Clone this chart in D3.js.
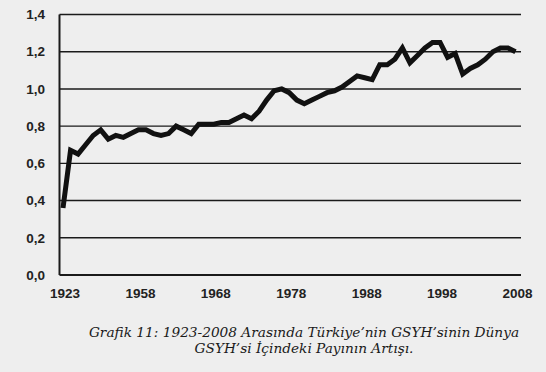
<!DOCTYPE html>
<html>
<head>
<meta charset="utf-8">
<script src="https://cdn.jsdelivr.net/npm/d3@7"></script>
<style>
  body { margin: 0; background: #eeeeee; }
  svg { display: block; }
</style>
</head>
<body>
<svg id="chart"></svg>
<script>
// Years on the category axis (1923, then every year 1949-2008)
const years = [1923,
  1949, 1950, 1951, 1952, 1953, 1954, 1955, 1956, 1957, 1958,
  1959, 1960, 1961, 1962, 1963, 1964, 1965, 1966, 1967, 1968,
  1969, 1970, 1971, 1972, 1973, 1974, 1975, 1976, 1977, 1978,
  1979, 1980, 1981, 1982, 1983, 1984, 1985, 1986, 1987, 1988,
  1989, 1990, 1991, 1992, 1993, 1994, 1995, 1996, 1997, 1998,
  1999, 2000, 2001, 2002, 2003, 2004, 2005, 2006, 2007, 2008];

// Share of world GDP (%)
const shares = [0.36,
  0.67, 0.65, 0.70, 0.75, 0.78, 0.73, 0.75, 0.74, 0.76, 0.78,
  0.78, 0.76, 0.75, 0.76, 0.80, 0.78, 0.76, 0.81, 0.81, 0.81,
  0.82, 0.82, 0.84, 0.86, 0.84, 0.88, 0.94, 0.99, 1.00, 0.98,
  0.94, 0.92, 0.94, 0.96, 0.98, 0.99, 1.01, 1.04, 1.07, 1.06,
  1.05, 1.13, 1.13, 1.16, 1.22, 1.14, 1.18, 1.22, 1.25, 1.25,
  1.17, 1.19, 1.08, 1.11, 1.13, 1.16, 1.20, 1.22, 1.22, 1.20];

// Tick labels
const xTickYears = [1923, 1958, 1968, 1978, 1988, 1998, 2008];
const yTicks = [0, 0.2, 0.4, 0.6, 0.8, 1.0, 1.2, 1.4];

const caption = [
  "Grafik 11: 1923-2008 Arasında Türkiye’nin GSYH’sinin Dünya",
  "GSYH’si İçindeki Payının Artışı."
];

const width = 546;
const height = 372;

const svg = d3.select("#chart").attr("width", width).attr("height", height);

// Plot box
const plotLeft = 59.5;
const plotRight = 521;
const plotTop = 14.5;
const plotBottom = 275;

const x = d3.scalePoint().domain(years).range([63, 515.5]);
const y = d3.scaleLinear().domain([0, 1.4]).range([plotBottom, plotTop]);

// Horizontal gridlines
svg.selectAll(".grid")
  .data(yTicks)
  .enter()
  .append("line")
  .attr("class", "grid")
  .attr("x1", plotLeft)
  .attr("x2", plotRight)
  .attr("y1", (d) => y(d))
  .attr("y2", (d) => y(d))
  .attr("stroke", "#1a1a1a")
  .attr("stroke-width", (d) => (d === 0 ? 2 : 1.4));

// Left axis line
svg.append("line")
  .attr("x1", plotLeft).attr("x2", plotLeft)
  .attr("y1", y(1.4)).attr("y2", y(0))
  .attr("stroke", "#1a1a1a")
  .attr("stroke-width", 2);

// Y labels with comma decimals
svg.selectAll(".ylab")
  .data(yTicks)
  .enter()
  .append("text")
  .attr("class", "ylab")
  .attr("x", 45)
  .attr("y", (d) => y(d))
  .attr("dy", "0.35em")
  .attr("text-anchor", "end")
  .attr("font-family", "Liberation Sans, Arial, sans-serif")
  .attr("font-weight", "bold")
  .attr("font-size", 13.5)
  .attr("fill", "#222")
  .text((d) => d.toFixed(1).replace(".", ","));

// X labels
svg.selectAll(".xlab")
  .data(xTickYears)
  .enter()
  .append("text")
  .attr("class", "xlab")
  .attr("x", (d) => x(d) + 2)
  .attr("y", plotBottom + 18)
  .attr("dy", "0.35em")
  .attr("text-anchor", "middle")
  .attr("font-family", "Liberation Sans, Arial, sans-serif")
  .attr("font-weight", "bold")
  .attr("font-size", 13.5)
  .attr("fill", "#222")
  .text((d) => d);

// The data line
const line = d3.line()
  .x((d, i) => x(years[i]))
  .y((d) => y(d));

svg.append("path")
  .datum(shares)
  .attr("d", line)
  .attr("fill", "none")
  .attr("stroke", "#111")
  .attr("stroke-width", 5)
  .attr("stroke-linejoin", "miter")
  .attr("stroke-miterlimit", 3);

// Caption below the chart
svg.selectAll(".caption")
  .data(caption)
  .enter()
  .append("text")
  .attr("class", "caption")
  .attr("x", 304)
  .attr("y", (d, i) => 332 + i * 16)
  .attr("dy", "0.35em")
  .attr("text-anchor", "middle")
  .attr("font-family", "DejaVu Serif, serif")
  .attr("font-style", "italic")
  .attr("font-size", 13.7)
  .attr("fill", "#1a1a1a")
  .text((d) => d);
</script>
</body>
</html>
